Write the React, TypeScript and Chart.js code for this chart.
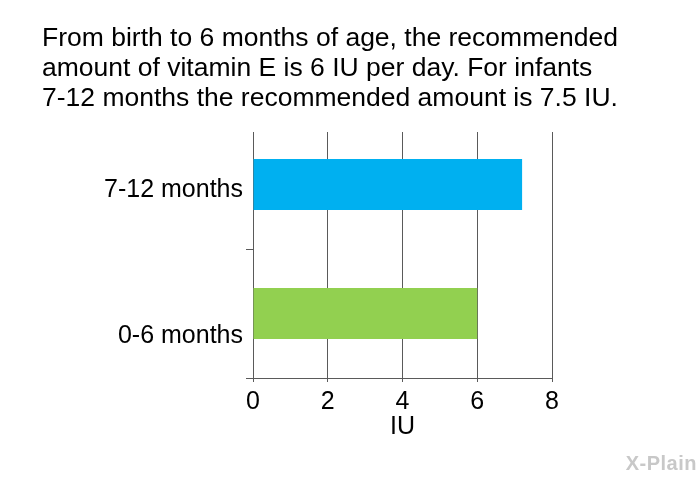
import { useEffect, useRef } from 'react';
import { Chart, registerables } from 'chart.js';

Chart.register(...registerables);

// ---- data ----
const categories = ['7-12 months', '0-6 months'];
const values = [7.2, 6];
const barColors = ['#00B0F0', '#92D050'];
const xMin = 0;
const xMax = 8;
const xStep = 2;
const xTitle = 'IU';
const titleLines = [
  'From birth to 6 months of age, the recommended',
  'amount of vitamin E is 6 IU per day. For infants',
  '7-12 months the recommended amount is 7.5 IU.',
];

// ---- style ----
const FONT = "'Liberation Sans', Arial, Helvetica, sans-serif";
const GRID = '#5a5a5a';
const GRID_TOP_INSET = 12;
const Y_AXIS_WIDTH = 211;
const LABEL_SHIFT = [6, 23]; // vertical nudges of category labels (px)

const gridTopCover = {
  id: 'gridTopCover',
  beforeDatasetsDraw(chart: any) {
    const { ctx, chartArea } = chart;
    ctx.save();
    ctx.fillStyle = '#ffffff';
    ctx.fillRect(chartArea.left - 10, chartArea.top - 1, chartArea.width + 12, GRID_TOP_INSET + 1);
    ctx.restore();
  },
};

export default function App() {
  const ref = useRef<HTMLCanvasElement | null>(null);

  useEffect(() => {
    if (!ref.current) return;
    const chart = new Chart(ref.current, {
      type: 'bar',
      data: {
        labels: categories.map((c) => ['', c]),
        datasets: [
          {
            data: values,
            backgroundColor: barColors,
            borderWidth: 0,
            categoryPercentage: 1,
            barPercentage: 0.395,
          },
        ],
      },
      options: {
        indexAxis: 'y',
        responsive: false,
        animation: false,
        layout: { padding: { left: 42, right: 148, top: 120, bottom: 40 } },
        plugins: {
          legend: { display: false },
          tooltip: { enabled: false },
          title: { display: false },
        },
        scales: {
          x: {
            type: 'linear',
            min: xMin,
            max: xMax,
            ticks: {
              stepSize: xStep,
              color: '#000000',
              padding: 8,
              font: { family: FONT, size: 25, lineHeight: 1 },
            },
            grid: {
              color: GRID,
              lineWidth: 1,
              drawTicks: true,
              tickLength: 4,
            },
            border: { display: true, color: GRID, width: 1 },
            title: {
              display: true,
              text: xTitle,
              color: '#000000',
              font: { family: FONT, size: 25, lineHeight: 1 },
              padding: { top: -8, bottom: 0 },
            },
          },
          y: {
            type: 'category',
            afterFit: (scale: any) => {
              scale.width = Y_AXIS_WIDTH;
            },
            ticks: {
              color: '#000000',
              padding: 3,
              font: (ctx: any) => ({
                family: FONT,
                size: 25,
                lineHeight: ((LABEL_SHIFT[ctx.index] ?? 0) * 2) / 25,
              }),
            },
            grid: {
              offset: true,
              drawOnChartArea: false,
              drawTicks: true,
              tickLength: 7,
              lineWidth: 1,
              color: (ctx: any) => (ctx.type === 'tick' && ctx.index === 0 ? 'rgba(0,0,0,0)' : GRID),
            },
            border: { display: false },
          },
        },
      },
      plugins: [gridTopCover],
    });
    return () => chart.destroy();
  }, []);

  return (
    <div style={{ position: 'absolute', left: 0, top: 0, width: 700, height: 480, background: '#fff' }}>
      <canvas ref={ref} width={700} height={480} style={{ width: 700, height: 480, display: 'block' }} />
      <div
        style={{
          position: 'absolute',
          left: 42,
          top: 22,
          color: '#000000',
          fontFamily: FONT,
          fontSize: 26.5,
          lineHeight: '30px',
          whiteSpace: 'nowrap',
        }}
      >
        {titleLines.map((line, i) => (
          <div key={i}>{line}</div>
        ))}
      </div>
      <div
        style={{
          position: 'absolute',
          right: 3,
          bottom: 5,
          color: '#c8c8c8',
          fontFamily: FONT,
          fontWeight: 'bold',
          fontSize: 20,
          letterSpacing: 0.5,
        }}
      >
        X-Plain
      </div>
    </div>
  );
}
